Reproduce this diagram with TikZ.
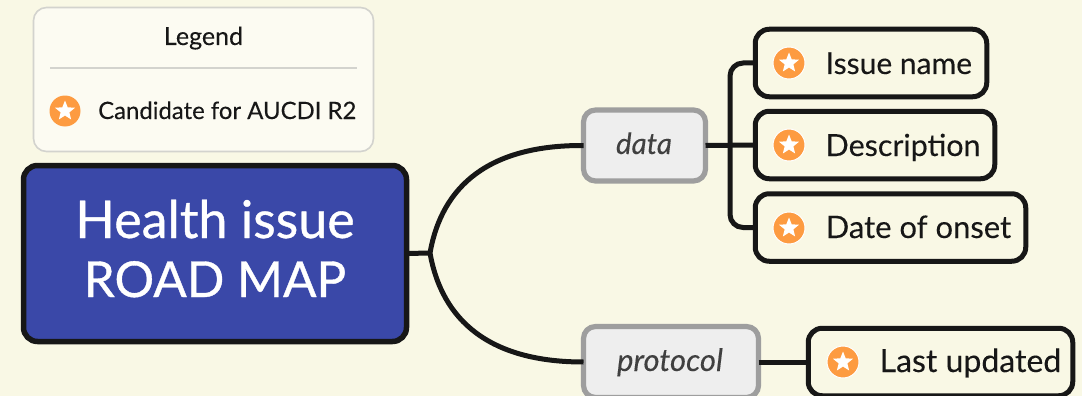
\documentclass[tikz,border=0pt]{standalone}
\usepackage{fontspec}
\setmainfont[FakeBold=0.7]{Lato}
\newfontfamily\bodyfont[FakeBold=0.15]{Lato}
\usetikzlibrary{shapes.geometric}
\definecolor{bg}{HTML}{F9F8E5}
\definecolor{ink}{HTML}{171717}
\definecolor{mainblue}{HTML}{3A48A8}
\definecolor{legfill}{HTML}{FCFBF2}
\definecolor{legline}{HTML}{D3D3CE}
\definecolor{gbox}{HTML}{EEEEEE}
\definecolor{gline}{HTML}{9E9E9E}
\definecolor{orangeic}{HTML}{FD9B41}
\tikzset{
  x=1pt,y=-1pt,
  box/.style={rounded corners=#1,inner sep=0pt,outer sep=0pt},
  legendbox/.style={box=13pt,draw=legline,line width=1.6pt,fill=legfill,minimum width=340pt,minimum height=144pt},
  mainbox/.style={box=14pt,draw=ink,line width=5.5pt,fill=mainblue,minimum width=383pt,minimum height=176pt},
  groupbox/.style={box=12pt,draw=gline,line width=5.2pt,fill=gbox,minimum height=71pt},
  itembox/.style={box=14pt,draw=ink,line width=5pt,minimum height=67.5pt},
  conn/.style={draw=ink,line width=5pt},
  txt/.style={inner sep=0pt,text=ink,font=\bodyfont\fontsize{#1}{36}\selectfont},
  ltxt/.style={inner sep=0pt,text=ink,font=\bodyfont\fontsize{#1}{28}\selectfont},
  gtxt/.style={inner sep=0pt,text=black!75,font=\bodyfont\fontsize{#1}{36}\selectfont\itshape},
  maintxt/.style={anchor=base,text=white,inner sep=0pt,font=\fontsize{#1}{60}\selectfont},
  icon/.style={circle,fill=orangeic,draw=white,line width=1pt,minimum size=32pt,inner sep=0pt},
  staricon/.style={star,star points=5,star point ratio=2.3,fill=white,minimum size=21pt,inner sep=0pt},
}
\begin{document}
\begin{tikzpicture}
\useasboundingbox (0,0) rectangle (1082,396);
\fill[bg] (0,0) rectangle (1082,396);
\clip (0,0) rectangle (1082,396);
% legend
\node[legendbox] (legend) at (203.5,79.5) {};
\node[ltxt=25,anchor=base] (legendtitle) at (203.5,45) {Legend};
\coordinate (ruleL) at (50,68);
\coordinate (ruleR) at (357,68);
\draw[legline,line width=1.4pt] (ruleL) -- (ruleR);
\node[icon,draw=none,minimum size=31pt] (legicon) at (65,111) {};
\node[staricon] (legstar) at (65,111) {};
\node[ltxt=23.9,anchor=base west] (legtext) at (98,119) {Candidate for AUCDI R2};
% main
\node[mainbox] (main) at (215,253.5) {};
\node[maintxt=52] (mainA) at (215,238) {Health issue};
\node[maintxt=49.5] (mainB) at (215,297) {ROAD MAP};
% groups
\node[groupbox,minimum width=122pt] (data) at (644.5,145.5) {};
\node[gtxt=29.5,anchor=base] (datatext) at (644,154) {data};
\node[groupbox,minimum width=175pt] (protocol) at (671,362) {};
\node[gtxt=31,anchor=base] (prottext) at (670,371) {protocol};
% items
\node[itembox,minimum width=231.5pt] (i1) at (871,63) {};
\node[itembox,minimum width=239.5pt] (i2) at (875,145) {};
\node[itembox,minimum width=270.5pt] (i3) at (890.5,227.5) {};
\node[itembox,minimum width=264.5pt] (i4) at (940.5,362) {};
\foreach \n/\x/\y/\b/\s/\t in {i1/789/63/74/30/Issue name,i2/789/145/156/30.4/Description,i3/789/228/238/31/Date of onset,i4/843/362/372/32/Last updated}{
  \node[icon] (\n icon) at (\x,\y) {};
  \node[staricon] (\n star) at (\x,\y) {};
  \node[txt=\s,anchor=base west] (\n text) at (\x+36.5,\b) {\t};
}
% connectors
\coordinate (hub) at (430,253);
\coordinate (trunk) at (730,145);
\draw[conn] (main.east) -- (hub);
\draw[conn] (hub) .. controls (442,185) and (490,145) .. (data.west);
\draw[conn] (hub) .. controls (442,321) and (490,362) .. (protocol.west);
\draw[conn] (data.east) -- (i2.west);
\draw[conn,rounded corners=13pt] (i1.west) -| (trunk);
\draw[conn,rounded corners=13pt] (i3.west) -| (trunk);
\draw[conn] (protocol.east) -- (i4.west);
\end{tikzpicture}
\end{document}
